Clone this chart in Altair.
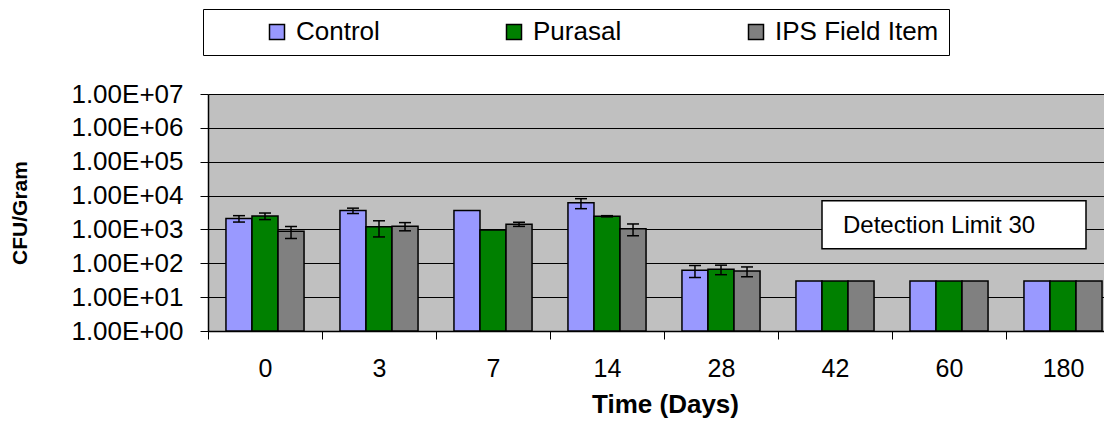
import altair as alt
import pandas as pd

# ---------------- data ----------------
days = ["0", "3", "7", "14", "28", "42", "60", "180"]
series = ["Control", "Purasal", "IPS Field Item"]
colors = ["#9999FF", "#008000", "#808080"]

control = [2100, 3600, 3650, 6100, 62, 30, 30, 30]
purasal = [2500, 1200, 970, 2450, 67, 30, 30, 30]
ips = [880, 1250, 1430, 1050, 59, 30, 30, 30]

control_err = [450, 650, 0, 2000, 24, 0, 0, 0]
purasal_err = [550, 600, 0, 100, 21, 0, 0, 0]
ips_err = [340, 340, 200, 400, 19, 0, 0, 0]

y_ticks = [1, 10, 100, 1000, 10000, 100000, 1000000, 10000000]

note_text = ["Detection Limit 30"]
note_day = ["60"]
note_value = [1380]

# ---------------- tables ----------------
rows = []
err_rows = []
for name, vals, errs in zip(series, [control, purasal, ips], [control_err, purasal_err, ips_err]):
    for d, v, e in zip(days, vals, errs):
        rows.append({"day": d, "series": name, "value": v, "base": 1})
        if e > 0:
            err_rows.append({"day": d, "series": name, "lo": v - e, "hi": v + e})
df = pd.DataFrame(rows)
err_df = pd.DataFrame(err_rows)
note_df = pd.DataFrame({"day": note_day, "value": note_value, "text": note_text})

FONT = "Liberation Sans"

x_scale = alt.Scale(domain=days, range=[0, 912], paddingInner=0, paddingOuter=0)
x_axis = alt.Axis(
    title="Time (Days)", tickBand="extent", labelAngle=0, labelFontSize=25,
    labelPadding=37, labelBaseline="alphabetic", tickSize=8, tickColor="black",
    domainColor="black", domainWidth=1.5, labelColor="black", grid=False,
    titleFontSize=26, titleFontWeight="bold", titleX=457, titleY=81,
    titleBaseline="alphabetic", titleAlign="center", titleColor="black",
    labelFont=FONT, titleFont=FONT,
)
y_scale = alt.Scale(type="log", domain=[1, 10000000], nice=False)
y_axis = alt.Axis(
    values=y_ticks, labelExpr="'1.00E+0' + round(log(datum.value) / LN10)",
    title="CFU/Gram", titleFontSize=21, titleFontWeight="bold", titleAngle=270,
    titleX=-187.5, titleY=118.5, titleAlign="center", titleBaseline="middle",
    labelFontSize=26, labelPadding=17, tickSize=8, tickColor="black",
    domainColor="black", domainWidth=1.5, gridColor="black", gridOpacity=1,
    gridWidth=1, labelColor="black", labelOverlap=False, titleColor="black",
    labelFont=FONT, titleFont=FONT,
)


def X():
    return alt.X("day:N", scale=x_scale, axis=x_axis)


def XO():
    return alt.XOffset("series:N", scale=alt.Scale(domain=series, paddingInner=0, paddingOuter=0.69))


def Y(field):
    return alt.Y(field, scale=y_scale, axis=y_axis)


legend = alt.Legend(
    title=" ", titleOrient="left", titlePadding=51, titleFontSize=10,
    orient="none", legendX=-5, legendY=-85, direction="horizontal", columns=3,
    columnPadding=121, symbolType="square", symbolSize=225,
    symbolStrokeColor="black", symbolStrokeWidth=1.5, symbolOpacity=1,
    labelFontSize=26, labelOffset=6, labelColor="black", labelFont=FONT,
    padding=10, strokeColor="black", fillColor="white", labelLimit=400,
)

bars = alt.Chart(df).mark_bar(stroke="black", strokeWidth=1.5, opacity=1).encode(
    x=X(), xOffset=XO(), y=Y("value:Q"), y2="base:Q",
    color=alt.Color("series:N", scale=alt.Scale(domain=series, range=colors), legend=legend),
)

err_line = alt.Chart(err_df).mark_rule(color="black", strokeWidth=1.5).encode(
    x=X(), xOffset=XO(), y=Y("lo:Q"), y2="hi:Q"
)
cap_lo = alt.Chart(err_df).mark_tick(color="black", thickness=1.5, size=12, opacity=1).encode(
    x=X(), xOffset=XO(), y=Y("lo:Q")
)
cap_hi = alt.Chart(err_df).mark_tick(color="black", thickness=1.5, size=12, opacity=1).encode(
    x=X(), xOffset=XO(), y=Y("hi:Q")
)

box_path = "M-1,-0.1818L1,-0.1818L1,0.1818L-1,0.1818Z"
note_box = alt.Chart(note_df).mark_point(
    shape=box_path, size=69696, filled=True, fill="white", stroke="black",
    strokeWidth=1.5, opacity=1, xOffset=5,
).encode(x=X(), y=Y("value:Q"))
note_txt = alt.Chart(note_df).mark_text(
    align="left", baseline="middle", dx=-106, dy=1, fontSize=24, font=FONT, color="black"
).encode(x=X(), y=Y("value:Q"), text="text:N")

chart = alt.layer(bars, err_line, cap_lo, cap_hi, note_box, note_txt).properties(
    width=896, height=237,
    autosize=alt.AutoSizeParams(type="none"),
    padding={"left": 200, "top": 86, "right": 0, "bottom": 88},
).configure(font=FONT).configure_view(fill="#C0C0C0", stroke="transparent")

chart.save("out.html", embed_options={"renderer": "svg", "actions": False})
